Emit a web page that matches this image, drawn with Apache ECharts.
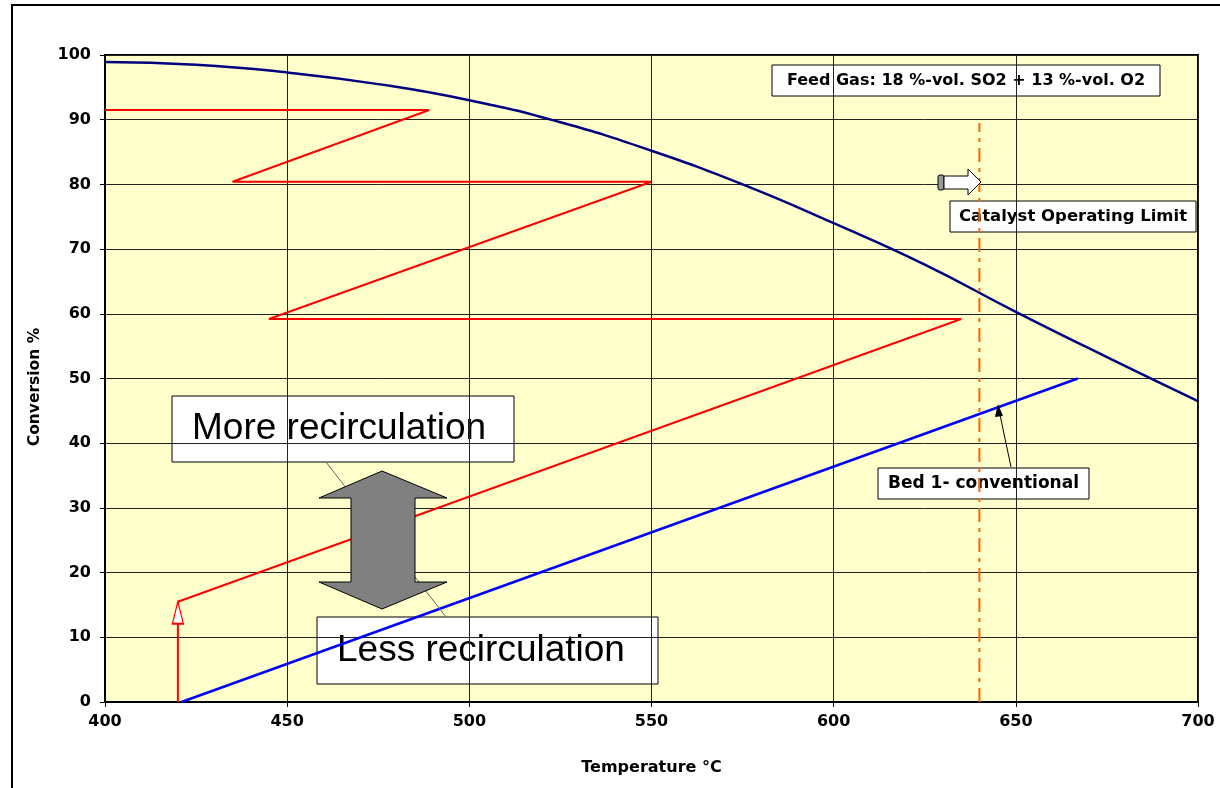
<!DOCTYPE html>
<html>
<head>
<meta charset="utf-8">
<script src="https://cdn.jsdelivr.net/npm/echarts@6/dist/echarts.min.js"></script>
<style>
html,body{margin:0;padding:0;background:#fff;}
#main{width:1220px;height:788px;}
</style>
</head>
<body>
<div id="main"></div>
<script>
// ---- data ----
const xTicks = [400, 450, 500, 550, 600, 650, 700];
const yTicks = [0, 10, 20, 30, 40, 50, 60, 70, 80, 90, 100];
// equilibrium curve (dark blue)
const eqT = [400, 425, 450, 475, 500, 525, 550, 575, 600, 625, 650, 675, 700];
const eqX = [98.9, 98.5, 97.3, 95.5, 93.0, 89.6, 85.2, 80.0, 74.0, 67.6, 60.3, 53.3, 46.5];
// recirculation staircase (red)
const recT = [420, 635, 445, 550, 435, 489, 400];
const recX = [15.5, 59.2, 59.2, 80.4, 80.4, 91.5, 91.5];
// feed preheat step (red arrow)
const riseT = [420, 420];
const riseX = [0, 15.5];
// Bed 1 conventional (blue)
const bedT = [421, 667];
const bedX = [0, 50];
// catalyst operating limit
const limitT = [640, 640];
const limitX = [0, 89.5];

const FONT = '"Liberation Sans", Arial, sans-serif';
const BFONT = '"DejaVu Sans", Verdana, sans-serif';
const pair = (a, b) => a.map((v, i) => [v, b[i]]);

const chart = echarts.init(document.getElementById('main'));

function box(x, y, w, h, text, font, align) {
  return {
    type: 'group', x: x, y: y, z: 100,
    children: [
      { type: 'rect', shape: { x: 0, y: 0, width: w, height: h },
        style: { fill: '#fff', stroke: '#000', lineWidth: 1 } },
      { type: 'text', x: align === 'left' ? 20 : w / 2, y: h / 2,
        style: { text: text, font: font, fill: '#000',
                 align: align === 'left' ? 'left' : 'center', verticalAlign: 'middle' } }
    ]
  };
}

const option = {
  animation: false,
  backgroundColor: '#fff',
  grid: { left: 105, right: 22, top: 55, bottom: 86, show: true,
          backgroundColor: '#FFFFCC', borderColor: '#000', borderWidth: 2 },
  xAxis: {
    type: 'value', min: 400, max: 700, interval: 50,
    name: 'Temperature °C', nameLocation: 'middle', nameGap: 58,
    nameTextStyle: { fontFamily: BFONT, fontWeight: 'bold', fontSize: 16, color: '#000' },
    axisLine: { lineStyle: { color: '#000', width: 2 } },
    axisTick: { show: true, length: 5, lineStyle: { color: '#000' } },
    axisLabel: { fontFamily: BFONT, fontWeight: 'bold', fontSize: 16, color: '#000', margin: 12 },
    splitLine: { show: true, lineStyle: { color: '#222', width: 1 } }
  },
  yAxis: {
    type: 'value', min: 0, max: 100, interval: 10,
    axisLine: { show: true, lineStyle: { color: '#000', width: 2 } },
    axisTick: { show: true, length: 5, lineStyle: { color: '#000' } },
    axisLabel: { fontFamily: BFONT, fontWeight: 'bold', fontSize: 16, color: '#000', margin: 14 },
    splitLine: { show: true, lineStyle: { color: '#222', width: 1 } }
  },
  series: [
    { type: 'line', name: 'Equilibrium', data: pair(eqT, eqX), smooth: true, showSymbol: false,
      lineStyle: { color: '#000080', width: 2.5 }, z: 3 },
    { type: 'line', name: 'Recirculation', data: pair(recT, recX), showSymbol: false,
      lineStyle: { color: '#FF0000', width: 2 }, z: 4 },
    { type: 'line', name: 'Preheat', data: [
        { value: [riseT[0], riseX[0]], symbol: 'none' },
        { value: [riseT[1], riseX[1]], symbol: 'triangle', symbolSize: [11, 22], symbolOffset: [0, '50%'] }
      ],
      lineStyle: { color: '#FF0000', width: 2 },
      itemStyle: { color: '#fff', borderColor: '#FF0000', borderWidth: 1.5 }, z: 5 },
    { type: 'line', name: 'Bed 1- conventional', data: pair(bedT, bedX), showSymbol: false,
      lineStyle: { color: '#0000FF', width: 2.5 }, z: 4 },
    { type: 'line', name: 'Catalyst Operating Limit', data: pair(limitT, limitX), showSymbol: false,
      lineStyle: { color: '#FF6600', width: 2, type: [14, 6, 4, 6] }, z: 3 }
  ],
  graphic: [
    // outer frame
    { type: 'rect', shape: { x: 12, y: 5, width: 1300, height: 900 },
      style: { fill: 'none', stroke: '#000', lineWidth: 2 }, z: 200, silent: true },
    // y axis title
    { type: 'text', x: 35, y: 387, rotation: Math.PI / 2, z: 100,
      style: { text: 'Conversion %', font: 'bold 15.5px ' + BFONT, fill: '#000',
               align: 'center', verticalAlign: 'middle' } },
    // connector line between the two recirculation boxes
    { type: 'line', shape: { x1: 326, y1: 462, x2: 446, y2: 617 },
      style: { stroke: '#666', lineWidth: 1 }, z: 90 },
    // double arrow
    { type: 'polygon', z: 95,
      shape: { points: [[382, 471], [447, 498], [415, 498], [415, 582], [447, 582],
                        [382, 609], [319, 582], [351, 582], [351, 498], [319, 498]] },
      style: { fill: '#808080', stroke: '#000', lineWidth: 1 } },
    box(172, 396, 342, 66, 'More recirculation', '37px ' + FONT, 'left'),
    box(317, 617, 341, 67, 'Less recirculation', '37px ' + FONT, 'left'),
    box(772, 65, 388, 31, 'Feed Gas: 18 %-vol. SO2 + 13 %-vol. O2', 'bold 16px ' + BFONT, 'center'),
    box(950, 201, 246, 31, 'Catalyst Operating Limit', 'bold 16.5px ' + BFONT, 'center'),
    box(878, 468, 211, 31, 'Bed 1- conventional', 'bold 17px ' + BFONT, 'center'),
    // pointer to Bed 1 line
    { type: 'line', shape: { x1: 1011, y1: 467, x2: 999, y2: 410 },
      style: { stroke: '#000', lineWidth: 1 }, z: 96 },
    { type: 'polygon', shape: { points: [[998, 404], [1003, 416], [995, 417]] },
      style: { fill: '#000' }, z: 96 },
    // small white arrow pointing toward limit
    { type: 'rect', shape: { x: 938, y: 175, width: 6, height: 15, r: 2 },
      style: { fill: '#999', stroke: '#000', lineWidth: 1 }, z: 96 },
    { type: 'polygon', z: 97,
      shape: { points: [[944, 176], [968, 176], [968, 169], [981, 182], [968, 195], [968, 189], [944, 189]] },
      style: { fill: '#fff', stroke: '#000', lineWidth: 1 } }
  ]
};
chart.setOption(option);
</script>
</body>
</html>
